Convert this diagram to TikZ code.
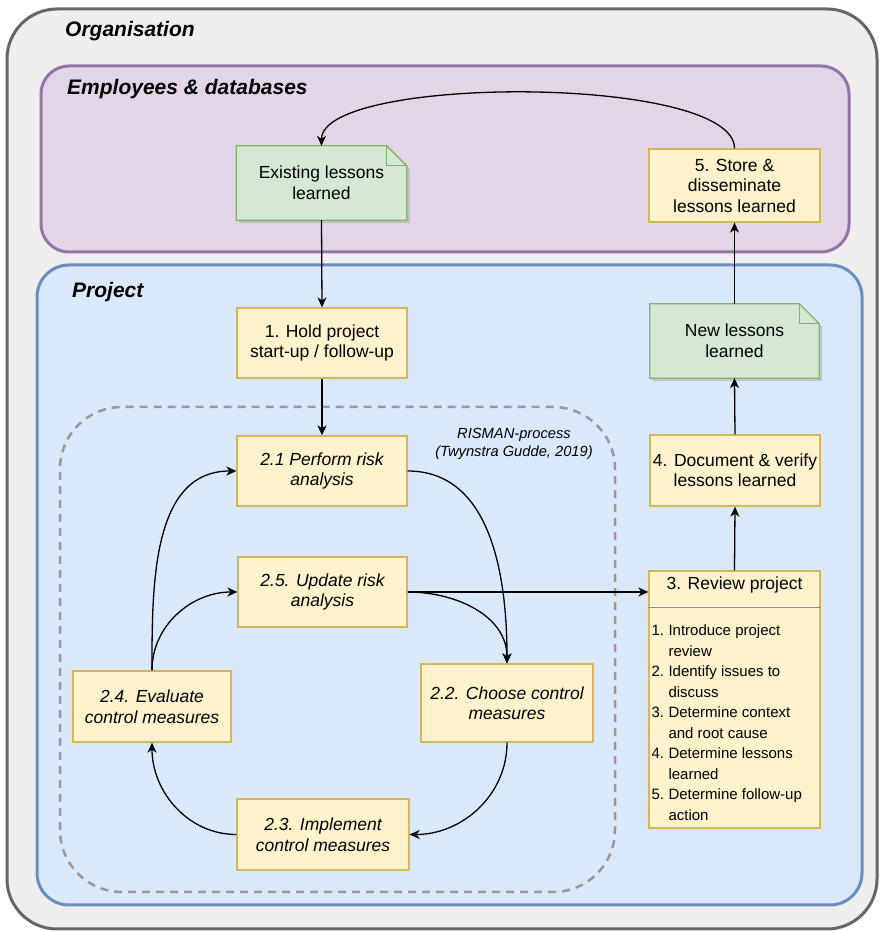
\documentclass[tikz,border=0pt]{standalone}
\usepackage{fontspec}
\setmainfont{Liberation Sans}
\usetikzlibrary{arrows.meta, positioning, shadows}

\definecolor{orgfill}{HTML}{EEEEEE}
\definecolor{orgline}{HTML}{666666}
\definecolor{empfill}{HTML}{E1D5E7}
\definecolor{empline}{HTML}{9673A6}
\definecolor{projfill}{HTML}{DAE8FC}
\definecolor{projline}{HTML}{6C8EBF}
\definecolor{stepfill}{HTML}{FFF2CC}
\definecolor{stepline}{HTML}{D6B656}
\definecolor{notefill}{HTML}{D5E8D4}
\definecolor{noteline}{HTML}{82B366}
\definecolor{dashgray}{HTML}{999999}
\definecolor{sepline}{HTML}{8C8C96}

\tikzset{
  stepbox/.style={draw=stepline, fill=stepfill, line width=1.3pt, align=center,
    inner sep=0pt, font=\fontsize{17.5}{20.5}\selectfont},
  riskbox/.style={stepbox, font=\fontsize{17.5}{20.5}\selectfont\itshape},
  notebody/.style={inner sep=0pt},
  noteoutline/.style={draw=noteline, fill=notefill, line width=1.3pt},
  notetext/.style={align=center, inner sep=0pt, font=\fontsize{17.5}{20.5}\selectfont},
  grouptitle/.style={anchor=west, inner sep=0pt, font=\fontsize{21}{25}\selectfont\bfseries\itshape},
  flow/.style={-{Stealth[length=10pt, width=9pt, inset=3pt]}, line width=1.3pt},
}

\begin{document}
\begin{tikzpicture}[x=1pt, y=1pt]
    \useasboundingbox (0,0) rectangle (880,931);

    % containers
    \draw[draw=orgline, fill=orgfill, line width=3pt, rounded corners=50pt] (7,2) rectangle (877,922);
    \draw[draw=empline, fill=empfill, line width=3pt, rounded corners=28pt] (41,679) rectangle (849,865);
    \draw[draw=projline, fill=projfill, line width=3pt, rounded corners=32pt] (37,26) rectangle (862,666);
    \draw[draw=dashgray, line width=2.5pt, dash pattern=on 8pt off 6pt, rounded corners=62pt] (60,39) rectangle (615,524);

    \node[grouptitle] (orgtitle) at (65,900) {Organisation};
    \node[grouptitle] (emptitle) at (67,842) {Employees \& databases};
    \node[grouptitle] (projtitle) at (72,639) {Project};
    \node[align=center, inner sep=0pt, font=\fontsize{14.7}{18}\selectfont\itshape] (rismantitle) at (514,487)
        {RISMAN-process\\(Twynstra Gudde, 2019)};

    % notes
    \node[notebody, minimum width=170pt, minimum height=74pt] (exist) at (321.5,748) {};
    \node[notebody, minimum width=169pt, minimum height=74pt] (newl) at (734.5,590) {};
    \foreach \n in {exist,newl} {
        \filldraw[noteoutline, drop shadow={shadow xshift=3pt, shadow yshift=-3pt, opacity=0.3}]
            (\n.south west) -- (\n.north west) -- ([xshift=-20pt]\n.north east)
            -- ([yshift=-20pt]\n.north east) -- (\n.south east) -- cycle;
        \draw[noteoutline, fill=none] ([xshift=-20pt]\n.north east)
            -- ([shift={(-20pt,-20pt)}]\n.north east) -- ([yshift=-20pt]\n.north east);
    }
    \node[notetext] (existtext) at (exist) {Existing lessons\\learned};
    \node[notetext] (newltext) at (newl) {New lessons\\learned};

    % project steps
    \node[stepbox, minimum width=171pt, minimum height=73pt] (store) at (734.5,745.5) {5. Store \&\\disseminate\\lessons learned};
    \node[stepbox, minimum width=170pt, minimum height=70pt] (hold) at (322,588) {1. Hold project\\start-up / follow-up};
    \node[stepbox, minimum width=170pt, minimum height=71pt] (doc) at (735,460.5) {4. Document \& verify\\lessons learned};
    \node[stepbox, minimum width=171pt, minimum height=257pt] (rev) at (734.5,231.5) {};
    \node[inner sep=0pt, font=\fontsize{17.5}{20.5}\selectfont] (revtitle) at ([yshift=-15pt]rev.north) {3. Review project};
    \draw[sepline, line width=1pt] ([yshift=-37pt]rev.north west) -- ([yshift=-37pt]rev.north east);
    \node[anchor=north west, inner sep=0pt, font=\fontsize{15}{20.5}\selectfont] (revlist)
        at ([xshift=3pt, yshift=-51pt]rev.north west) {%
        \begin{tabular}{@{}p{17pt}@{}l@{}}
        1. & Introduce project\\
           & review\\
        2. & Identify issues to\\
           & discuss\\
        3. & Determine context\\
           & and root cause\\
        4. & Determine lessons\\
           & learned\\
        5. & Determine follow-up\\
           & action
        \end{tabular}};

    % RISMAN cycle
    \node[riskbox, minimum width=170pt, minimum height=70pt] (risk) at (322,460) {2.1 Perform risk\\analysis};
    \node[riskbox, minimum width=169pt, minimum height=70pt] (upd) at (322.5,339) {2.5. Update risk\\analysis};
    \node[riskbox, minimum width=172pt, minimum height=78pt] (choose) at (507,228) {2.2. Choose control\\measures};
    \node[riskbox, minimum width=172pt, minimum height=71pt] (impl) at (323,96.5) {2.3. Implement\\control measures};
    \node[riskbox, minimum width=158pt, minimum height=71pt] (eval) at (152,224.5) {2.4. Evaluate\\control measures};

    % connectors
    \draw[flow] (store.north) .. controls +(0,74) and +(0,71) .. (exist.north);
    \draw[flow] (exist.south) -- (hold.north);
    \draw[flow] (hold.south) -- (risk.north);
    \draw[flow] (risk.east) to[out=0, in=90] (choose.north);
    \draw[flow] (upd.east) to[out=0, in=90] (choose.north);
    \draw[flow] (choose.south) to[out=-90, in=0] (impl.east);
    \draw[flow] (impl.west) to[out=180, in=-90] (eval.south);
    \draw[flow] (eval.north) to[out=90, in=180] (risk.west);
    \draw[flow] (eval.north) to[out=90, in=180] (upd.west);
    \draw[flow] (upd.east) -- (upd.east -| rev.west);
    \draw[flow] (rev.north) -- (doc.south);
    \draw[flow] (doc.north) -- (newl.south);
    \draw[flow] (newl.north) -- (store.south);
\end{tikzpicture}
\end{document}
